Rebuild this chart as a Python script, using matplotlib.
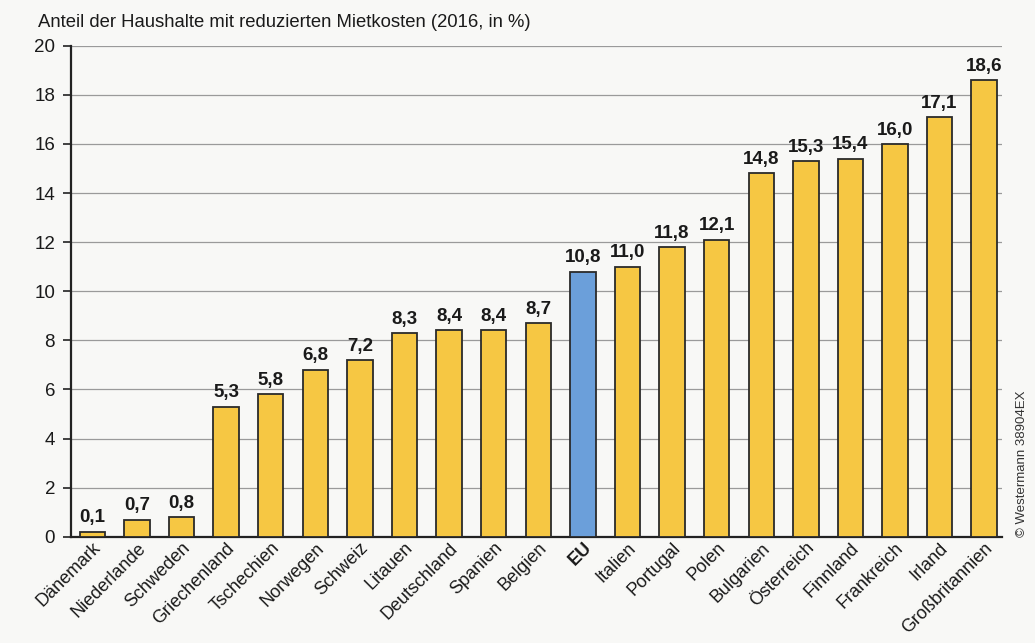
import matplotlib.pyplot as plt
import numpy as np

countries = ["Dänemark", "Niederlande", "Schweden", "Griechenland", "Tschechien",
             "Norwegen", "Schweiz", "Litauen", "Deutschland", "Spanien", "Belgien",
             "EU", "Italien", "Portugal", "Polen", "Bulgarien", "Österreich",
             "Finnland", "Frankreich", "Irland", "Großbritannien"]
values = [0.1, 0.7, 0.8, 5.3, 5.8, 6.8, 7.2, 8.3, 8.4, 8.4, 8.7,
          10.8, 11.0, 11.8, 12.1, 14.8, 15.3, 15.4, 16.0, 17.1, 18.6]
yticks = [0, 2, 4, 6, 8, 10, 12, 14, 16, 18, 20]

plt.rcParams['font.family'] = ["Liberation Sans", "DejaVu Sans"]

yellow = "#f6c743"
blue = "#6b9fda"
colors = [blue if c == "EU" else yellow for c in countries]
bg = "#f8f8f6"

fig = plt.figure(figsize=(10.35, 6.43), dpi=100, facecolor=bg)
ax = fig.add_axes([0.0686, 0.1653, 0.8995, 0.7636])
ax.set_facecolor(bg)

x = np.arange(len(countries))
# the 0,1 bar is drawn a bit taller in the original so it stays visible
heights = [max(v, 0.2) for v in values]
ax.bar(x, heights, width=0.57, color=colors, edgecolor="#2a2a2a", linewidth=1.3, zorder=3)

for xi, h, v in zip(x, heights, values):
    ax.text(xi, h + 0.22, f"{v:.1f}".replace(".", ","), ha="center", va="bottom",
            fontsize=13.5, fontweight="bold", color="#1a1a1a")

ax.set_ylim(0, 20)
ax.set_xlim(-0.48, len(countries) - 0.6)
ax.set_yticks(yticks)
ax.set_yticklabels([str(t) for t in yticks], fontsize=13.5, color="#1a1a1a")
ax.yaxis.grid(True, color="#9a9a9a", linewidth=0.9, zorder=0)
ax.tick_params(axis="y", length=6, width=1.2, pad=5.5, color="#222222")
ax.tick_params(axis="x", length=0, pad=2)

ax.set_xticks(x)
labels = ax.set_xticklabels(countries, rotation=45, ha="right", rotation_mode="anchor",
                            fontsize=13, color="#1a1a1a")
for lab in labels:
    if lab.get_text() == "EU":
        lab.set_fontweight("bold")

for s in ["top", "right"]:
    ax.spines[s].set_visible(False)
for s in ["left", "bottom"]:
    ax.spines[s].set_linewidth(1.6)
    ax.spines[s].set_color("#222222")

fig.text(0.037, 0.952, "Anteil der Haushalte mit reduzierten Mietkosten (2016, in %)",
         fontsize=13.3, color="#1a1a1a", ha="left", va="bottom")
fig.text(0.987, 0.165, "© Westermann 38904EX", rotation=90, fontsize=9.5,
         color="#333333", ha="center", va="bottom")

fig.savefig("out.png", dpi=100, facecolor=fig.get_facecolor())
